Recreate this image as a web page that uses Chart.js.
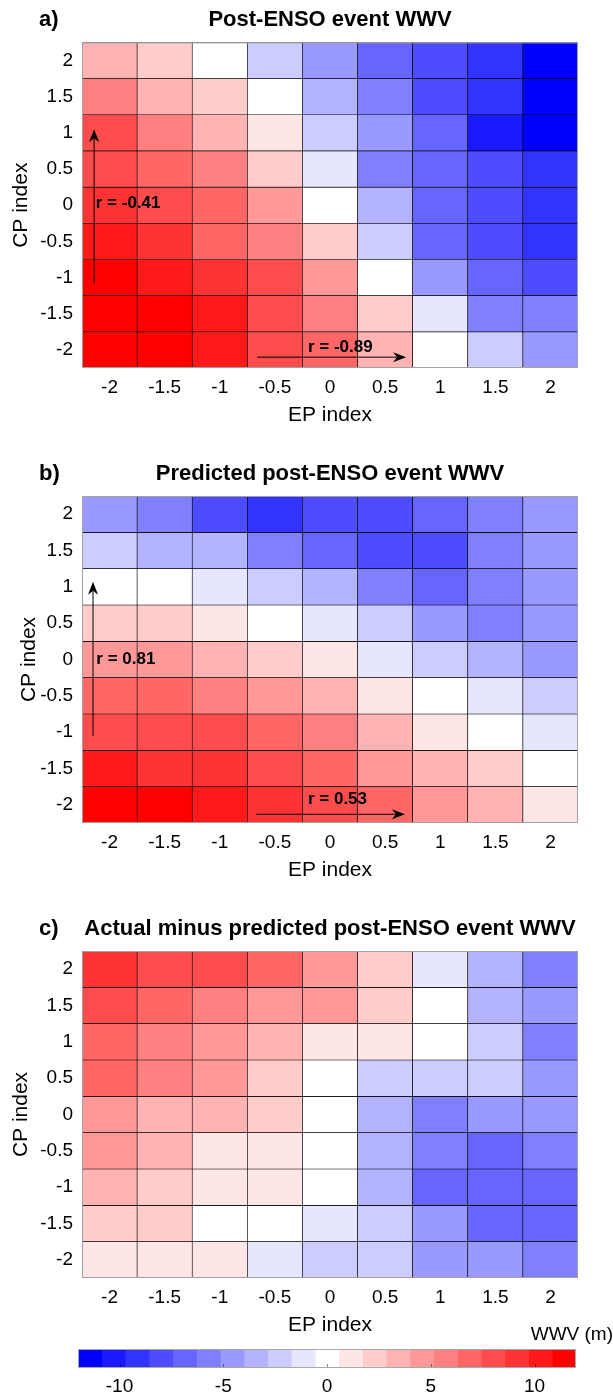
<!DOCTYPE html>
<html>
<head>
<meta charset="utf-8">
<script src="https://cdn.jsdelivr.net/npm/chart.js@4.4.1/dist/chart.umd.min.js"></script>
<style>
  body { margin: 0; background: #fff; width: 613px; height: 1397px; position: relative; overflow: hidden; }
  canvas { position: absolute; left: 0; display: block; }
</style>
</head>
<body>
<canvas id="panelA" width="613" height="440" style="top:0"></canvas>
<canvas id="panelB" width="613" height="460" style="top:440px"></canvas>
<canvas id="panelC" width="613" height="445" style="top:900px"></canvas>
<canvas id="colorbar" width="613" height="75" style="top:1322px"></canvas>
<script>
// axes
const epLabels = ["-2", "-1.5", "-1", "-0.5", "0", "0.5", "1", "1.5", "2"];
const cpTicks = [2, 1.5, 1, 0.5, 0, -0.5, -1, -1.5, -2];

// WWV (m), one row per CP value (top row = CP 2), columns follow epLabels
const wwvActual = [
  [3.4, 2.3, 0, -2.3, -4.6, -6.9, -8.0, -9.1, -11.4],
  [5.7, 3.4, 2.3, 0, -3.4, -5.7, -8.0, -9.1, -11.4],
  [8.0, 5.7, 3.4, 1.1, -2.3, -4.6, -6.9, -10.3, -11.4],
  [8.0, 6.9, 5.7, 2.3, -1.1, -5.7, -6.9, -8.0, -9.1],
  [9.1, 8.0, 6.9, 4.6, 0, -3.4, -6.9, -8.0, -9.1],
  [10.3, 9.1, 6.9, 5.7, 2.3, -2.3, -6.9, -8.0, -9.1],
  [11.4, 10.3, 9.1, 8.0, 4.6, 0, -4.6, -6.9, -8.0],
  [11.4, 11.4, 10.3, 8.0, 5.7, 2.3, -1.1, -5.7, -5.7],
  [11.4, 11.4, 10.3, 8.0, 6.9, 3.4, 0, -2.3, -4.6]
];
const wwvPredicted = [
  [-4.6, -5.7, -8.0, -9.1, -8.0, -8.0, -6.9, -5.7, -4.6],
  [-2.3, -3.4, -3.4, -5.7, -6.9, -8.0, -8.0, -5.7, -4.6],
  [0, 0, -1.1, -2.3, -3.4, -5.7, -6.9, -5.7, -4.6],
  [2.3, 2.3, 1.1, 0, -1.1, -2.3, -4.6, -5.7, -4.6],
  [4.6, 4.6, 3.4, 2.3, 1.1, -1.1, -2.3, -3.4, -4.6],
  [6.9, 6.9, 5.7, 4.6, 3.4, 1.1, 0, -1.1, -2.3],
  [8.0, 8.0, 8.0, 6.9, 5.7, 3.4, 1.1, 0, -1.1],
  [10.3, 9.1, 9.1, 8.0, 6.9, 4.6, 3.4, 2.3, 0],
  [11.4, 11.4, 10.3, 9.1, 8.0, 6.9, 4.6, 3.4, 1.1]
];
const wwvResidual = [
  [9.1, 8.0, 8.0, 6.9, 4.6, 2.3, -1.1, -3.4, -5.7],
  [8.0, 6.9, 5.7, 4.6, 4.6, 2.3, 0, -3.4, -4.6],
  [6.9, 5.7, 4.6, 3.4, 1.1, 1.1, 0, -2.3, -5.7],
  [6.9, 5.7, 4.6, 2.3, 0, -2.3, -2.3, -2.3, -4.6],
  [4.6, 3.4, 3.4, 2.3, 0, -3.4, -5.7, -4.6, -4.6],
  [4.6, 3.4, 1.1, 1.1, 0, -3.4, -5.7, -6.9, -5.7],
  [3.4, 2.3, 1.1, 1.1, 0, -3.4, -6.9, -6.9, -6.9],
  [2.3, 2.3, 0, 0, -1.1, -2.3, -4.6, -6.9, -6.9],
  [1.1, 1.1, 1.1, -1.1, -2.3, -2.3, -4.6, -4.6, -5.7]
];

// correlation annotations: arrow from/to and label anchor in (EP index position, CP) units
const notesA = [
  { text: "r = -0.41", from: [-0.28, -1.08], to: [-0.28, 1.05], at: [-0.25, 0.02] },
  { text: "r = -0.89", from: [2.68, -2.1], to: [5.38, -2.1], at: [3.6, -1.96] }
];
const notesB = [
  { text: "r = 0.81", from: [-0.3, -1.05], to: [-0.3, 1.07], at: [-0.24, 0.0] },
  { text: "r = 0.53", from: [2.66, -2.13], to: [5.36, -2.13], at: [3.6, -1.92] }
];

// colour scale
const colorbarTicks = [-10, -5, 0, 5, 10];
const colorbarLimits = [-12, 12];
const colorLevels = 21;

const FONT = "'Liberation Sans', Arial, Helvetica, sans-serif";
Chart.defaults.font.family = FONT;
Chart.defaults.color = "#000";

const binWidth = (colorbarLimits[1] - colorbarLimits[0]) / colorLevels;
const maxLevel = (colorLevels - 1) / 2;

function levelOf(v) {
  return Math.max(-maxLevel, Math.min(maxLevel, Math.round(v / binWidth)));
}

function levelColor(k) {
  const c = Math.round(255 * (1 - Math.abs(k) / maxLevel));
  return k < 0 ? `rgb(${c},${c},255)` : `rgb(255,${c},${c})`;
}

function drawArrow(ctx, x0, y0, x1, y1) {
  const ang = Math.atan2(y1 - y0, x1 - x0);
  const cos = Math.cos(ang), sin = Math.sin(ang);
  const len = 13, half = 5, notch = 4;
  const bx = x1 - len * cos, by = y1 - len * sin;
  ctx.lineWidth = 1;
  ctx.beginPath();
  ctx.moveTo(x0, y0);
  ctx.lineTo(bx + notch * cos, by + notch * sin);
  ctx.stroke();
  ctx.beginPath();
  ctx.moveTo(x1, y1);
  ctx.lineTo(bx - half * sin, by + half * cos);
  ctx.lineTo(bx + notch * cos, by + notch * sin);
  ctx.lineTo(bx + half * sin, by - half * cos);
  ctx.closePath();
  ctx.fill();
}

function notesPlugin(tag, notes) {
  return {
    id: "notes",
    afterDatasetsDraw(chart) {
      const { ctx, chartArea: a, scales: { x, y } } = chart;
      ctx.save();
      ctx.strokeStyle = "#a0a0a0";
      ctx.lineWidth = 1;
      ctx.strokeRect(a.left + 0.5, a.top + 0.5, a.right - a.left - 1, a.bottom - a.top - 1);

      ctx.fillStyle = "#000";
      ctx.strokeStyle = "#000";
      ctx.textAlign = "left";
      ctx.textBaseline = "middle";
      ctx.font = `bold 22px ${FONT}`;
      ctx.fillText(tag, 39, a.top - 9 - 13.2);

      notes.forEach((n) => {
        drawArrow(ctx,
          x.getPixelForValue(n.from[0]), y.getPixelForValue(n.from[1]),
          x.getPixelForValue(n.to[0]), y.getPixelForValue(n.to[1]));
        ctx.font = `bold 17px ${FONT}`;
        ctx.fillText(n.text, x.getPixelForValue(n.at[0]), y.getPixelForValue(n.at[1]));
      });
      ctx.restore();
    }
  };
}

function heatmap(id, tag, title, grid, notes, pad) {
  const datasets = cpTicks.map((cp, r) => ({
    data: epLabels.map(() => [cp - 0.25, cp + 0.25]),
    backgroundColor: grid[r].map((v) => levelColor(levelOf(v))),
    borderColor: "#000",
    borderWidth: 0.65,
    borderSkipped: false,
    barPercentage: 1,
    categoryPercentage: 1,
    grouped: false
  }));

  new Chart(document.getElementById(id), {
    type: "bar",
    data: { labels: epLabels, datasets: datasets },
    options: {
      responsive: false,
      animation: false,
      layout: { padding: { top: pad.top, bottom: pad.bottom, left: 0, right: 35 } },
      plugins: {
        legend: { display: false },
        tooltip: { enabled: false },
        title: {
          display: true,
          text: title,
          fullSize: false,
          color: "#000",
          font: { size: 22, weight: "bold" },
          padding: { top: 7, bottom: 9 }
        }
      },
      scales: {
        x: {
          grid: { display: false, drawTicks: false },
          border: { display: false },
          ticks: { font: { size: 19 }, padding: 8.6, maxRotation: 0, autoSkip: false },
          title: { display: true, text: "EP index", font: { size: 21 }, padding: { top: 0, bottom: 3.4 } },
          afterFit(s) { s.height = 63; }
        },
        y: {
          type: "linear",
          min: -2.25,
          max: 2.25,
          afterBuildTicks(s) { s.ticks = cpTicks.map((v) => ({ value: v })); },
          grid: { display: false, drawTicks: false },
          border: { display: false },
          ticks: { font: { size: 19 }, padding: 9, autoSkip: false, callback: (v) => String(v) },
          title: { display: true, text: "CP index", font: { size: 21 }, padding: { top: pad.yTitle, bottom: 0 } },
          afterFit(s) { s.width = 82; }
        }
      }
    },
    plugins: [notesPlugin(tag, notes)]
  });
}

heatmap("panelA", "a)", "Post-ENSO event WWV", wwvActual, notesA, { top: 0, bottom: 9, yTitle: 9 });
heatmap("panelB", "b)", "Predicted post-ENSO event WWV", wwvPredicted, notesB, { top: 13.6, bottom: 14, yTitle: 16.4 });
heatmap("panelC", "c)", "Actual minus predicted post-ENSO event WWV", wwvResidual, [], { top: 8.6, bottom: 4, yTitle: 9 });

// colour bar
const levels = Array.from({ length: colorLevels }, (_, i) => i - maxLevel);
const colorbarFrame = {
  id: "cbFrame",
  afterDatasetsDraw(chart) {
    const { ctx, chartArea: a, scales: { x } } = chart;
    ctx.save();
    ctx.strokeStyle = "rgba(0,0,0,0.45)";
    ctx.lineWidth = 1;
    colorbarTicks.forEach((t) => {
      const px = Math.round(x.getPixelForValue(t)) + 0.5;
      ctx.beginPath();
      ctx.moveTo(px, a.bottom);
      ctx.lineTo(px, a.bottom - 4);
      ctx.stroke();
    });
    ctx.strokeStyle = "#a8a8a8";
    ctx.strokeRect(a.left + 0.5, a.top + 0.5, a.right - a.left - 1, a.bottom - a.top - 1);
    ctx.restore();
  }
};

new Chart(document.getElementById("colorbar"), {
  type: "bar",
  data: {
    labels: [""],
    datasets: levels.map((k) => ({
      data: [[(k - 0.5) * binWidth, (k + 0.5) * binWidth]],
      backgroundColor: levelColor(k),
      borderWidth: 0,
      barPercentage: 1,
      categoryPercentage: 1,
      grouped: false
    }))
  },
  options: {
    indexAxis: "y",
    responsive: false,
    animation: false,
    layout: { padding: 0 },
    plugins: {
      legend: { display: false },
      tooltip: { enabled: false },
      title: {
        display: true,
        text: "WWV (m)",
        align: "end",
        color: "#000",
        font: { size: 19, weight: "normal" },
        padding: { top: 1.6, bottom: 2.6 }
      }
    },
    scales: {
      x: {
        type: "linear",
        min: colorbarLimits[0],
        max: colorbarLimits[1],
        afterBuildTicks(s) { s.ticks = colorbarTicks.map((v) => ({ value: v })); },
        grid: { display: false, drawTicks: false },
        border: { display: false },
        ticks: { font: { size: 19 }, padding: 7.6, maxRotation: 0 },
        afterFit(s) { s.height = 29; }
      },
      y: {
        grid: { display: false, drawTicks: false },
        border: { display: false },
        ticks: { display: false },
        afterFit(s) { s.width = 78; }
      },
      y2: {
        type: "category",
        position: "right",
        grid: { display: false, drawTicks: false },
        border: { display: false },
        ticks: { display: false },
        afterFit(s) { s.width = 37; }
      }
    }
  },
  plugins: [colorbarFrame]
});
</script>
</body>
</html>
